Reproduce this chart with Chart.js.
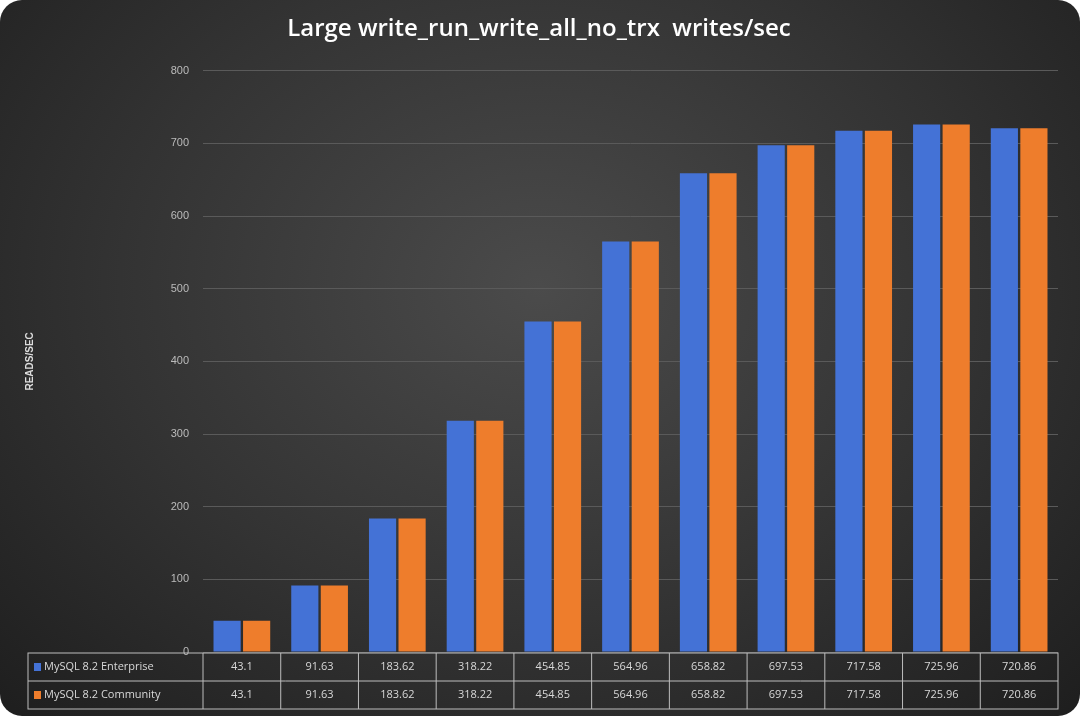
<!DOCTYPE html>
<html>
<head>
<meta charset="utf-8">
<script src="https://cdn.jsdelivr.net/npm/chart.js@4/dist/chart.umd.min.js"></script>
<style>
  html, body { margin: 0; padding: 0; background: #fff; }
  #wrap {
    width: 1080px; height: 716px; border-radius: 22px; overflow: hidden;
    background: radial-gradient(ellipse at 50% 40%, #4b4b4b 0%, #333 55%, #1e1e1e 100%);
  }
</style>
</head>
<body>
<div id="wrap"><canvas id="c" width="1080" height="716"></canvas></div>
<script>
const categories = ["1", "2", "4", "8", "16", "32", "64", "128", "256", "512", "1024"];
const enterprise = [43.1, 91.63, 183.62, 318.22, 454.85, 564.96, 658.82, 697.53, 717.58, 725.96, 720.86];
const community = [43.1, 91.63, 183.62, 318.22, 454.85, 564.96, 658.82, 697.53, 717.58, 725.96, 720.86];
const seriesNames = ["MySQL 8.2 Enterprise", "MySQL 8.2 Community"];
const colors = ["#4472d6", "#ee7d2c"];

// data table under the plot, aligned to the x scale
const tablePlugin = {
    id: "dataTable",
    afterDraw(chart) {
        const ctx = chart.ctx;
        const x = chart.scales.x;
        const area = chart.chartArea;
        const left = 28, top = area.bottom + 1, rowH = 28;
        const step = x.getPixelForValue(1) - x.getPixelForValue(0);
        const edges = [left];
        categories.forEach((c, i) => edges.push(x.getPixelForValue(i) - step / 2));
        edges.push(x.getPixelForValue(categories.length - 1) + step / 2);

        ctx.save();
        ctx.strokeStyle = "#bdbdbd";
        ctx.lineWidth = 1;
        ctx.strokeRect(left, top, edges[edges.length - 1] - left, rowH * 2);
        ctx.beginPath();
        ctx.moveTo(left, top + rowH);
        ctx.lineTo(edges[edges.length - 1], top + rowH);
        edges.slice(1, -1).forEach(e => { ctx.moveTo(e, top); ctx.lineTo(e, top + rowH * 2); });
        ctx.stroke();

        ctx.font = "11px 'Open Sans', sans-serif";
        ctx.textBaseline = "middle";
        [enterprise, community].forEach((vals, r) => {
            const cy = top + rowH * r + rowH / 2;
            ctx.fillStyle = colors[r];
            ctx.fillRect(left + 6, cy - 4, 7, 8);
            ctx.fillStyle = "#d8d8d8";
            ctx.textAlign = "left";
            ctx.fillText(seriesNames[r], left + 16, cy);
            ctx.textAlign = "center";
            vals.forEach((v, i) => ctx.fillText(String(v), (edges[i + 1] + edges[i + 2]) / 2, cy));
        });
        ctx.restore();
    }
};

new Chart(document.getElementById("c"), {
    type: "bar",
    data: {
        labels: categories,
        datasets: [
            { label: seriesNames[0], data: enterprise, backgroundColor: colors[0] },
            { label: seriesNames[1], data: community, backgroundColor: colors[1] },
        ],
    },
    options: {
        responsive: false,
        animation: false,
        layout: { padding: { left: 20, right: 22, top: 15, bottom: 64 } },
        datasets: { bar: { categoryPercentage: 0.76, barPercentage: 0.92 } },
        plugins: {
            legend: { display: false },
            tooltip: { enabled: false },
            title: {
                display: true,
                text: "Large write_run_write_all_no_trx  writes/sec",
                color: "#ffffff",
                font: { family: "'Open Sans', sans-serif", size: 24, weight: "600" },
                padding: { top: 0, bottom: 27 },
            },
        },
        scales: {
            x: { display: false, offset: true },
            y: {
                min: 0, max: 800,
                ticks: { stepSize: 100, color: "#bbbbbb", font: { size: 11 }, padding: 14 },
                grid: { color: "#5a5a5a", drawTicks: false },
                border: { display: false },
                title: {
                    display: true, text: "READS/SEC", color: "#dddddd",
                    font: { size: 10, weight: "bold" },
                },
                afterFit(s) { s.width = 183; },
            },
        },
    },
    plugins: [tablePlugin],
});
</script>
</body>
</html>
